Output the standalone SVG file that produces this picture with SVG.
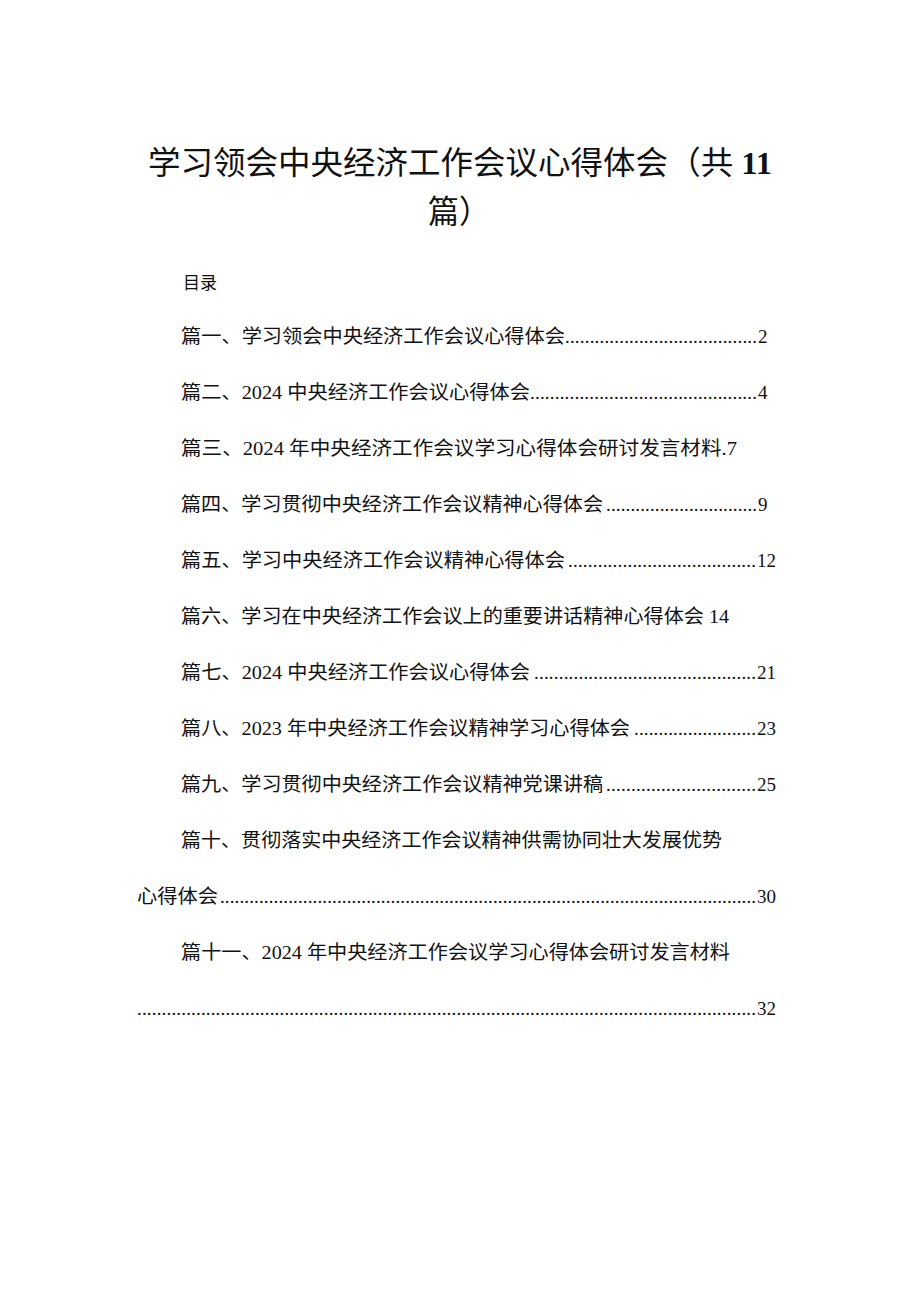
<svg xmlns="http://www.w3.org/2000/svg" width="920" height="1301" viewBox="0 0 920 1301">
<style>
text{font-family:"Liberation Serif","Noto Sans CJK SC",serif;fill:#111}
.t{font-size:32px}
.e{font-size:19px}
</style>
<rect width="920" height="1301" fill="#fff"/>
<text class="t" x="148" y="174" textLength="624" lengthAdjust="spacingAndGlyphs">学习领会中央经济工作会议心得体会（共 <tspan font-weight="bold">11</tspan></text>
<text class="t" x="428" y="223" textLength="62" lengthAdjust="spacingAndGlyphs">篇）</text>
<text x="183" y="289" font-size="17" fill="#333">目录</text>
<g class="e">
<text x="181" y="343" textLength="384" lengthAdjust="spacingAndGlyphs">篇一、学习领会中央经济工作会议心得体会</text>
<text x="565" y="343" textLength="192" lengthAdjust="spacing">.......................................</text>
<text x="758" y="343">2</text>
<text x="181" y="399" textLength="349" lengthAdjust="spacingAndGlyphs">篇二、2024 中央经济工作会议心得体会</text>
<text x="530" y="399" textLength="227" lengthAdjust="spacing">..............................................</text>
<text x="758" y="399">4</text>
<text x="181" y="455" textLength="556" lengthAdjust="spacingAndGlyphs">篇三、2024 年中央经济工作会议学习心得体会研讨发言材料.7</text>
<text x="181" y="511" textLength="422" lengthAdjust="spacingAndGlyphs">篇四、学习贯彻中央经济工作会议精神心得体会</text>
<text x="606" y="511" textLength="151" lengthAdjust="spacing">...............................</text>
<text x="758" y="511">9</text>
<text x="181" y="567" textLength="384" lengthAdjust="spacingAndGlyphs">篇五、学习中央经济工作会议精神心得体会</text>
<text x="568" y="567" textLength="188" lengthAdjust="spacing">......................................</text>
<text x="757" y="567">12</text>
<text x="181" y="623" textLength="548" lengthAdjust="spacingAndGlyphs">篇六、学习在中央经济工作会议上的重要讲话精神心得体会 14</text>
<text x="181" y="679" textLength="349" lengthAdjust="spacingAndGlyphs">篇七、2024 中央经济工作会议心得体会</text>
<text x="534" y="679" textLength="222" lengthAdjust="spacing">.............................................</text>
<text x="757" y="679">21</text>
<text x="181" y="735" textLength="449" lengthAdjust="spacingAndGlyphs">篇八、2023 年中央经济工作会议精神学习心得体会</text>
<text x="634" y="735" textLength="122" lengthAdjust="spacing">.........................</text>
<text x="757" y="735">23</text>
<text x="181" y="791" textLength="422" lengthAdjust="spacingAndGlyphs">篇九、学习贯彻中央经济工作会议精神党课讲稿</text>
<text x="606" y="791" textLength="150" lengthAdjust="spacing">..............................</text>
<text x="757" y="791">25</text>
<text x="181" y="847" textLength="541" lengthAdjust="spacingAndGlyphs">篇十、贯彻落实中央经济工作会议精神供需协同壮大发展优势</text>
<text x="137" y="903" textLength="81" lengthAdjust="spacingAndGlyphs">心得体会</text>
<text x="220" y="903" textLength="536" lengthAdjust="spacing">..............................................................................................................</text>
<text x="757" y="903">30</text>
<text x="181" y="959" textLength="549" lengthAdjust="spacingAndGlyphs">篇十一、2024 年中央经济工作会议学习心得体会研讨发言材料</text>
<text x="137" y="1015" textLength="619" lengthAdjust="spacing">..............................................................................................................................</text>
<text x="757" y="1015">32</text>
</g>
</svg>
